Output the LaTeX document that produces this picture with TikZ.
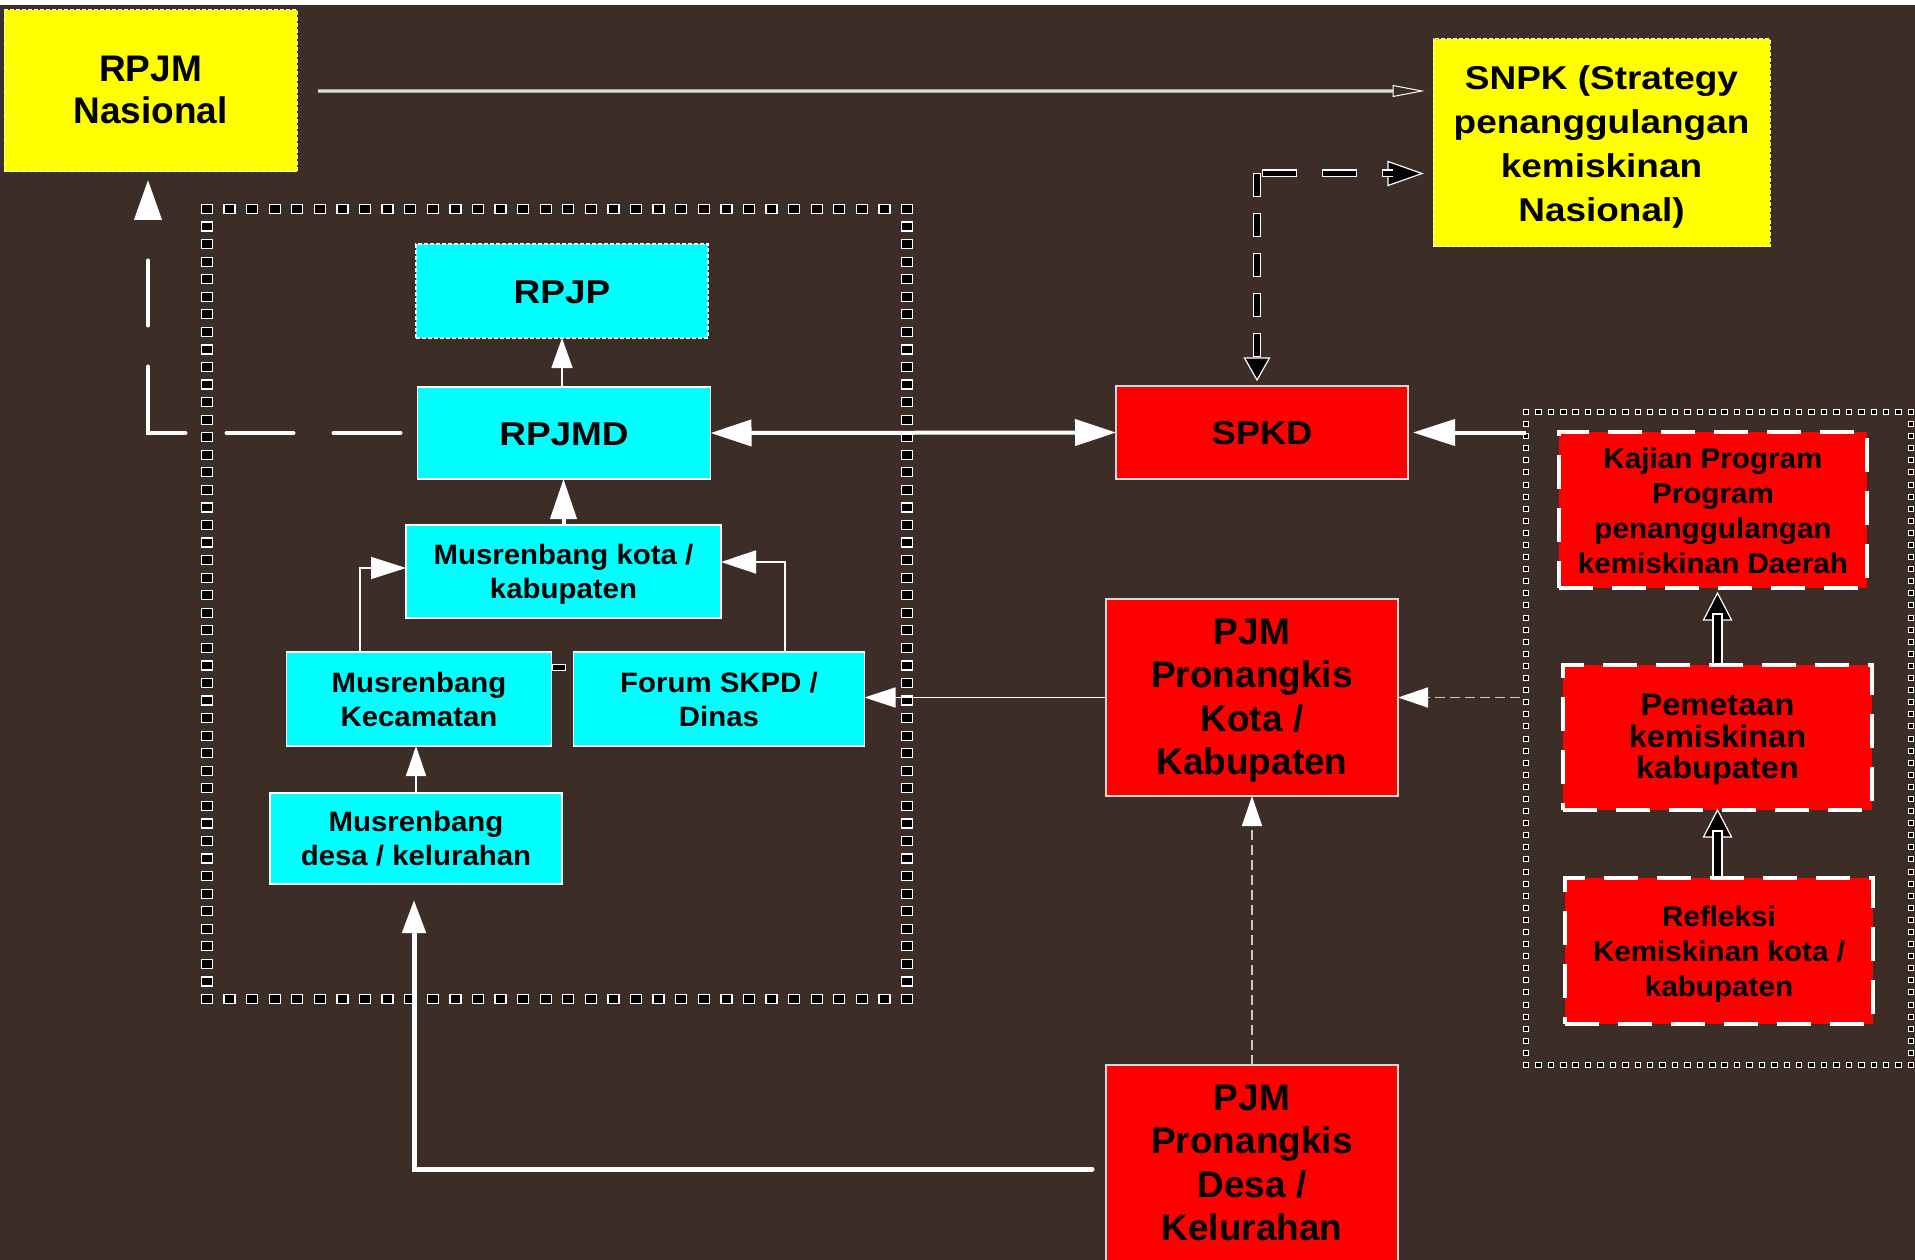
\documentclass[tikz,border=0pt]{standalone}
\usepackage{fontspec}
\setmainfont{Liberation Sans}
\usepackage{graphicx}
\usetikzlibrary{arrows.meta,calc}
\definecolor{bg}{RGB}{60,46,39}
\definecolor{ylw}{RGB}{255,255,0}
\definecolor{cyn}{RGB}{0,255,255}
\definecolor{rd}{RGB}{255,0,0}
\definecolor{lgray}{RGB}{200,200,200}
\definecolor{mgray}{RGB}{165,165,165}
\definecolor{pgray}{RGB}{220,220,220}
\newcommand\sxt[2]{\raisebox{-3.5pt}[\height][\depth]{\scalebox{#1}[1]{\begin{tabular}{@{}c@{}}#2\end{tabular}}}}
\begin{document}
\begin{tikzpicture}[x=1pt,y=-1pt,
  base/.style={rectangle, inner sep=0pt, outer sep=0pt, text=black, align=center},
  ybox/.style={base, fill=ylw, draw=white, line width=1pt, dash pattern=on 4pt off 2pt},
  cbox/.style={base, fill=cyn, draw=white, line width=1.2pt},
  cboxd/.style={cbox, dash pattern=on 4pt off 2pt},
  redbox/.style={base, fill=rd, draw=white!85!black, line width=1.2pt},
  reddash/.style={base, fill=rd, draw=white, line width=4.5pt, dash pattern=on 34pt off 19pt},
  frame/.style={rectangle, inner sep=0pt, outer sep=0pt, draw=none},
  bigsq/.style={draw=white, fill=black, line width=1.3pt},
  smallsq/.style={draw=white, fill=black, line width=1pt},
  thin/.style={white, line width=1.5pt},
  thick/.style={white, line width=4pt},
  hd/.style={fill=black, draw=white, line width=1.2pt},
  fA/.style={font=\fontsize{37}{42}\selectfont\bfseries},
  fB/.style={font=\fontsize{33}{44}\selectfont\bfseries},
  fC/.style={font=\fontsize{28}{34}\selectfont\bfseries},
  fD/.style={font=\fontsize{37}{43.5}\selectfont\bfseries},
]
\useasboundingbox (0,0) rectangle (1915,1260);
\fill[bg] (0,0) rectangle (1915,1260);
\fill[white] (0,0) rectangle (1915,5);

% frames (dotted borders)
\node[frame, minimum width=700pt, minimum height=790pt] (lframe) at (557,604) {};
\node[frame, minimum width=385pt, minimum height=653pt] (rframe) at (1718.5,738.5) {};
\foreach \i in {0,...,31}{
  \pgfmathsetmacro\xx{207+\i*22.5806}
  \draw[bigsq] (\xx-5.5,204.5) rectangle ++(11,9);
  \draw[bigsq] (\xx-5.5,994.5) rectangle ++(11,9);
}
\foreach \j in {1,...,44}{
  \pgfmathsetmacro\yy{209+\j*17.5556}
  \draw[bigsq] (201.5,\yy-4.5) rectangle ++(11,9);
  \draw[bigsq] (901.5,\yy-4.5) rectangle ++(11,9);
}
\foreach \i in {0,...,31}{
  \pgfmathsetmacro\xx{1526+\i*12.4194}
  \draw[smallsq] (\xx-2.75,409.5) rectangle ++(5.5,5);
  \draw[smallsq] (\xx-2.75,1062.5) rectangle ++(5.5,5);
}
\foreach \j in {1,...,53}{
  \pgfmathsetmacro\yy{412+\j*12.0926}
  \draw[smallsq] (1523.25,\yy-2.5) rectangle ++(5.5,5);
  \draw[smallsq] (1908.25,\yy-2.5) rectangle ++(5.5,5);
}

% nodes
\node[ybox, fA, minimum width=293pt, minimum height=162pt] (rpjmn) at (150.5,91) {\sxt{1}{RPJM\\Nasional}};
\node[ybox, fB, minimum width=337pt, minimum height=208pt] (snpk) at (1601.5,143) {\sxt{1.12}{SNPK (Strategy\\penanggulangan\\kemiskinan\\Nasional)}};
\node[cboxd, fB, minimum width=292pt, minimum height=94pt] (rpjp) at (562,291) {\sxt{1.12}{RPJP}};
\node[cbox, fB, minimum width=293pt, minimum height=92pt] (rpjmd) at (564,433) {\sxt{1.12}{RPJMD}};
\node[cbox, fC, minimum width=315pt, minimum height=93pt] (mkota) at (563.5,571.5) {\sxt{1.05}{Musrenbang kota /\\kabupaten}};
\node[cbox, fC, minimum width=265pt, minimum height=94pt] (kec) at (419,699) {\sxt{1.05}{Musrenbang\\Kecamatan}};
\node[cbox, fC, minimum width=291pt, minimum height=94pt] (forum) at (719,699) {\sxt{1.05}{Forum SKPD /\\Dinas}};
\node[cbox, fC, minimum width=292pt, minimum height=91pt] (mdesa) at (416,838.5) {\sxt{1.05}{Musrenbang\\desa / kelurahan}};
\node[redbox, fB, minimum width=292pt, minimum height=93pt] (spkd) at (1262,432.5) {\sxt{1.1}{SPKD}};
\node[redbox, fD, minimum width=292pt, minimum height=197pt] (kota) at (1252,697.5) {\sxt{1}{PJM\\Pronangkis\\Kota /\\Kabupaten}};
\node[redbox, minimum width=292pt, minimum height=240pt, anchor=north] (desa) at (1252,1065) {};
\node[base, fD, anchor=north] (desatxt) at ($(desa.north)+(0,11.5)$) {\sxt{1}{PJM\\Pronangkis\\Desa /\\Kelurahan}};
\node[reddash, font=\fontsize{28.5}{35}\selectfont\bfseries, minimum width=308pt, minimum height=156pt] (kaj) at (1713,510) {\sxt{1.04}{Kajian Program\\Program\\penanggulangan\\kemiskinan Daerah}};
\node[reddash, font=\fontsize{31}{30.6}\selectfont\bfseries, minimum width=309pt, minimum height=145pt] (pem) at (1717.5,737.5) {\sxt{1.05}{Pemetaan\\kemiskinan\\kabupaten}};
\node[reddash, font=\fontsize{28.5}{34.7}\selectfont\bfseries, minimum width=308pt, minimum height=146pt] (refl) at (1719,951) {\sxt{1.04}{Refleksi\\Kemiskinan kota /\\kabupaten}};

% RPJM Nasional -> SNPK (grey, open head)
\draw[mgray, line width=4pt] ($(rpjmn.east)+(21,0)$) -- ($(rpjmn.east -| snpk.west)+(-37,0)$);
\draw[pgray, line width=1.3pt] ($(rpjmn.east)+(21,0)$) -- ($(rpjmn.east -| snpk.west)+(-37,0)$);
\filldraw[fill=bg, draw=white, line width=1pt] ($(rpjmn.east -| snpk.west)+(-40,-5.5)$) -- ($(rpjmn.east -| snpk.west)+(-40,5.5)$) -- ($(rpjmn.east -| snpk.west)+(-11,0)$) -- cycle;

% RPJMD -> RPJM Nasional (long dashes)
\draw[white, line width=4pt, line cap=round, dash pattern=on 67pt off 40pt on 67pt off 41pt on 104pt off 41pt on 65pt off 44pt, dash phase=467pt, -{Triangle[length=40pt,width=27pt]}] ($(rpjmd.west)+(-15,0)$) -| ($(rpjmn.south)+(-2.5,8)$);

% RPJMD <-> SPKD
\draw[thick, {Triangle[length=41pt,width=26pt]}-{Triangle[length=41pt,width=26pt]}] (rpjmd.east) -- (spkd.west);

% right frame -> SPKD
\draw[thick, -{Triangle[length=42pt,width=26pt]}] (rframe.west |- spkd.east) -- ($(spkd.east)+(5,0)$);

% SPKD <-> SNPK dashed elbow (black with white outline)
\coordinate (ec) at ($(spkd.north)+(-5,-213)$);
\coordinate (eh) at ($(ec)+(5,0.5)$);
\filldraw[hd] ($(spkd.north)+(-17.5,-28)$) -- ($(spkd.north)+(7.5,-28)$) -- ($(spkd.north)+(-5,-6)$) -- cycle;
\filldraw[hd] ($(snpk.west |- eh)+(-45,-12)$) -- ($(snpk.west |- eh)+(-45,12)$) -- ($(snpk.west |- eh)+(-11,0)$) -- cycle;
\draw[white, line width=8.5pt, dash pattern=on 24pt off 16pt] (ec) -- ($(spkd.north)+(-5,-28)$);
\draw[black, line width=6pt, dash pattern=on 22pt off 18pt, dash phase=39pt] (ec) -- ($(spkd.north)+(-5,-28)$);
\draw[white, line width=8pt, dash pattern=on 35pt off 25pt] (eh) -- ($(snpk.west |- eh)+(-40,0)$);
\draw[black, line width=5.5pt, dash pattern=on 33pt off 27pt, dash phase=59pt] (eh) -- ($(snpk.west |- eh)+(-40,0)$);

% PJM Kota -> Forum
\draw[thin, -{Triangle[length=31pt,width=20pt]}] (kota.west) -- (kota.west -| forum.east);
% right frame -> PJM Kota
\draw[lgray, line width=1.5pt, dash pattern=on 10pt off 5pt, -{Triangle[length=30pt,width=20pt,color=white]}] ($(rframe.west |- kota.east)+(-6,0)$) -- (kota.east);
% PJM Desa -> PJM Kota
\draw[lgray, line width=1.5pt, dash pattern=on 10pt off 5pt, -{Triangle[length=30pt,width=20pt,color=white]}] (desa.north) -- (kota.south);
% PJM Desa -> Musrenbang desa
\draw[white, line width=5pt, line cap=round, -{Triangle[length=33pt,width=23pt]}] ($(desa.north west)+(-14,104)$) -| ($(mdesa.south)+(-2,16)$);
% Musrenbang desa -> Kecamatan
\draw[thin, -{Triangle[length=30pt,width=20pt]}] (mdesa.north) -- (mdesa.north |- kec.south);
% Kecamatan -> Musrenbang kota
\draw[thin, -{Triangle[length=35pt,width=22pt]}] ($(kec.north)+(-59,0)$) |- ($(mkota.west)+(0,-3.5)$);
% Forum -> Musrenbang kota
\draw[thin, -{Triangle[length=35pt,width=23pt]}] ($(forum.north)+(66,0)$) |- ($(mkota.east)+(0,-9.5)$);
% Musrenbang kota -> RPJMD
\draw[thick, -{Triangle[length=40pt,width=26pt]}] (mkota.north) -- (mkota.north |- rpjmd.south);
% RPJMD -> RPJP
\draw[thin, -{Triangle[length=30pt,width=21pt]}] (rpjp.south |- rpjmd.north) -- (rpjp.south);
% small link between Kecamatan and Forum
\draw[white, fill=black, line width=1pt] ($(kec.east)+(1,-35)$) rectangle ($(kec.east)+(14,-29)$);

% Pemetaan -> Kajian
\coordinate (t1) at ($(pem.north |- kaj.south)+(0,5)$);
\filldraw[hd] ($(t1)+(-14,27)$) -- ($(t1)+(14,27)$) -- (t1) -- cycle;
\filldraw[hd] ($(t1)+(-4.5,21)$) rectangle ($(pem.north)+(4.5,-1)$);
% Refleksi -> Pemetaan
\coordinate (t2) at ($(refl.north |- pem.south)+(-1.5,0)$);
\filldraw[hd] ($(t2)+(-14,27)$) -- ($(t2)+(14,27)$) -- (t2) -- cycle;
\filldraw[hd] ($(t2)+(-4.5,21)$) rectangle ($(refl.north)+(3,-1)$);
\end{tikzpicture}
\end{document}
